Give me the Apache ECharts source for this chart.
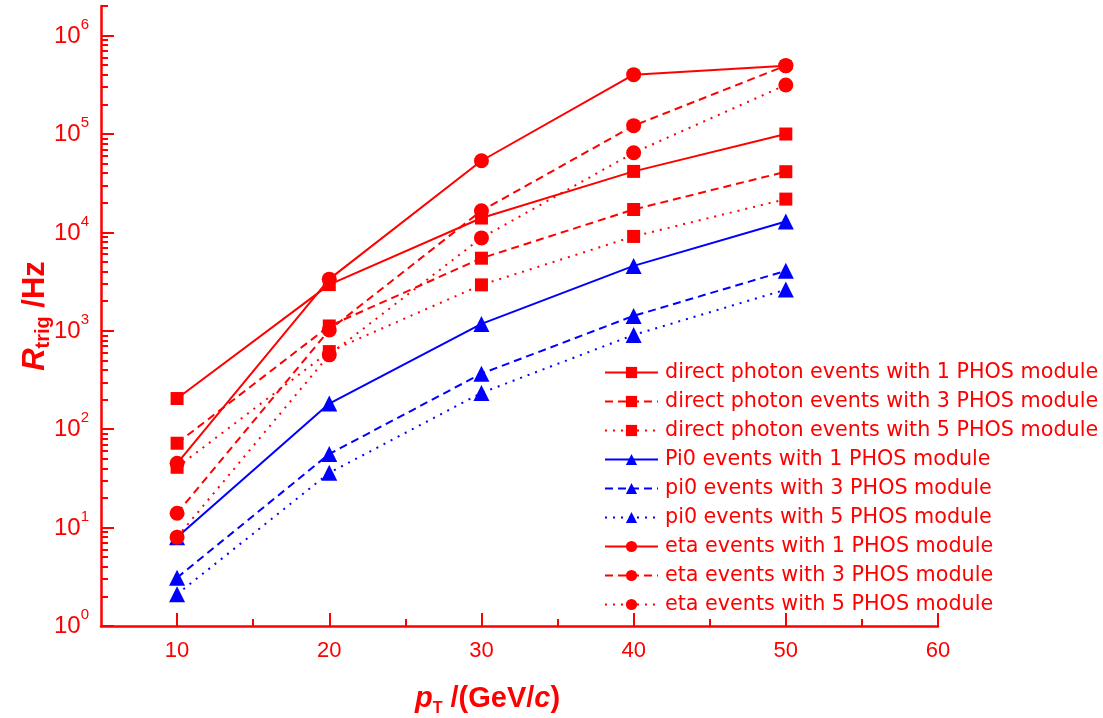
<!DOCTYPE html>
<html><head><meta charset="utf-8">
<script src="https://cdn.jsdelivr.net/npm/echarts@6/dist/echarts.min.js"></script>
<style>html,body{margin:0;padding:0;background:#fff}#c{width:1103px;height:718px}</style>
</head><body><div id="c"></div>
<script>
// ---- data ----
const PT = [10, 20, 30, 40, 50];
const DIRECT_1 = [205, 2950, 14000, 41700, 100000];
const DIRECT_3 = [72, 1120, 5470, 17100, 41400];
const DIRECT_5 = [41, 615, 2930, 9100, 21800];
const PI0_1 = [8, 182, 1175, 4570, 12900];
const PI0_3 = [3.1, 56, 367, 1418, 4070];
const PI0_5 = [2.1, 36, 234, 908, 2625];
const ETA_1 = [45, 3350, 53500, 401000, 495000];
const ETA_3 = [14, 1020, 16600, 121600, 495000];
const ETA_5 = [8, 570, 8800, 64500, 315000];
const SERIES_NAMES = [
  'direct photon events with 1 PHOS module',
  'direct photon events with 3 PHOS module',
  'direct photon events with 5 PHOS module',
  'Pi0 events with 1 PHOS module',
  'pi0 events with 3 PHOS module',
  'pi0 events with 5 PHOS module',
  'eta events with 1 PHOS module',
  'eta events with 3 PHOS module',
  'eta events with 5 PHOS module'
];
const X_MAJOR_TICKS = [10, 20, 30, 40, 50, 60];
const X_MINOR_TICKS = [15, 25, 35, 45, 55];
const Y_EXPONENTS = [0, 1, 2, 3, 4, 5, 6];
const Y_MINOR_FACTORS = [2, 3, 4, 5, 6, 7, 8, 9];
const X_MIN = 5, X_MAX = 60, Y_MIN = 1, Y_MAX = 2e6;

// ---- styling ----
const RED = '#ff0000', BLUE = '#0000ff';
const FONT = '"Liberation Sans", Arial, sans-serif';
const LOG_MAX = Math.log10(Y_MAX);
const yMinorLog = [];
Y_EXPONENTS.forEach(n => Y_MINOR_FACTORS.forEach(k => {
  const v = k * Math.pow(10, n);
  if (v <= Y_MAX * 1.0000001) yMinorLog.push(Math.min(Math.log10(v), LOG_MAX));
}));

function pairs(ys) { return PT.map((x, i) => [x, ys[i]]); }
const defs = [
  [DIRECT_1, RED, 'rect', 'solid', 13],
  [DIRECT_3, RED, 'rect', [8, 5], 13],
  [DIRECT_5, RED, 'rect', [2, 6], 13],
  [PI0_1, BLUE, 'triangle', 'solid', 16],
  [PI0_3, BLUE, 'triangle', [8, 5], 16],
  [PI0_5, BLUE, 'triangle', [2, 6], 16],
  [ETA_1, RED, 'circle', 'solid', 15],
  [ETA_3, RED, 'circle', [8, 5], 15],
  [ETA_5, RED, 'circle', [2, 6], 15]
];
const series = defs.map((d, i) => ({
  name: SERIES_NAMES[i],
  type: 'line',
  xAxisIndex: 0, yAxisIndex: 0,
  data: pairs(d[0]),
  symbol: d[2],
  symbolSize: d[4],
  showAllSymbol: true,
  color: d[1],
  itemStyle: { color: d[1] },
  lineStyle: { color: d[1], width: 2, type: d[3] },
  z: 2 + i
}));

const axisColor = RED;
const option = {
  animation: false,
  backgroundColor: '#fff',
  grid: { left: 101, right: 165, top: 6, bottom: 92, containLabel: false, outerBoundsMode: 'none' },
  legend: {
    orient: 'vertical',
    left: 599, top: 357,
    itemWidth: 53, itemHeight: 14,
    itemGap: 8,
    data: SERIES_NAMES,
    textStyle: { color: RED, fontFamily: '"DejaVu Sans", sans-serif', fontSize: 20.7, lineHeight: 21, padding: [0, 0, 0, 2] }
  },
  xAxis: [
    {
      type: 'value', min: X_MIN, max: X_MAX,
      name: '{pi|p}{sub|T}{b| /(GeV/}{ci|c}{b|)}{sp| }',
      nameLocation: 'middle', nameGap: 58,
      nameTextStyle: {
        color: RED,
        rich: {
          pi: { fontFamily: FONT, fontSize: 29, fontWeight: 'bold', fontStyle: 'italic', color: RED, lineHeight: 33, verticalAlign: 'top' },
          ci: { fontFamily: FONT, fontSize: 29, fontWeight: 'bold', fontStyle: 'italic', color: RED, lineHeight: 33, verticalAlign: 'top' },
          b: { fontFamily: FONT, fontSize: 29, fontWeight: 'bold', color: RED, lineHeight: 33, verticalAlign: 'top' },
          sub: { fontFamily: FONT, fontSize: 16, fontWeight: 'bold', color: RED, lineHeight: 16, verticalAlign: 'bottom', padding: [17, 0, 0, 0] },
          sp: { width: 64, fontSize: 10 }
        }
      },
      axisLine: { show: true, lineStyle: { color: axisColor, width: 2.5 } },
      axisTick: { show: true, inside: true, length: 13, lineStyle: { color: axisColor, width: 2 }, customValues: X_MAJOR_TICKS },
      axisLabel: { show: true, customValues: X_MAJOR_TICKS, color: RED, fontFamily: FONT, fontSize: 22, margin: 14 },
      splitLine: { show: false }
    },
    {
      type: 'value', min: X_MIN, max: X_MAX, position: 'bottom',
      axisLine: { show: false },
      axisTick: { show: true, inside: true, length: 7, lineStyle: { color: axisColor, width: 2 }, customValues: X_MINOR_TICKS },
      axisLabel: { show: false },
      splitLine: { show: false }
    }
  ],
  yAxis: [
    {
      type: 'log', logBase: 10, min: Y_MIN, max: Y_MAX, position: 'left',
      name: '{ri|R}{sub|trig}{b| /Hz}',
      nameLocation: 'middle', nameRotate: 90, nameGap: 48,
      nameTextStyle: {
        color: RED,
        rich: {
          ri: { fontFamily: FONT, fontSize: 31, fontWeight: 'bold', fontStyle: 'italic', color: RED, lineHeight: 33, verticalAlign: 'top' },
          b: { fontFamily: FONT, fontSize: 31, fontWeight: 'bold', color: RED, lineHeight: 33, verticalAlign: 'top' },
          sub: { fontFamily: FONT, fontSize: 20, fontWeight: 'bold', color: RED, lineHeight: 20, verticalAlign: 'bottom', padding: [23, 0, 0, 0] }
        }
      },
      axisLine: { show: true, lineStyle: { color: axisColor, width: 2.5 } },
      axisTick: { show: false },
      axisLabel: { show: false },
      splitLine: { show: false }
    },
    {
      type: 'value', min: 0, max: LOG_MAX, position: 'left',
      axisLine: { show: false },
      axisTick: { show: true, inside: true, length: 13, lineStyle: { color: axisColor, width: 2 }, customValues: Y_EXPONENTS },
      axisLabel: {
        show: true, customValues: Y_EXPONENTS, margin: 12,
        formatter: v => '{b|10}{s|' + Math.round(v) + '}',
        rich: {
          b: { fontFamily: FONT, fontSize: 24, color: RED, lineHeight: 25, verticalAlign: 'bottom' },
          s: { fontFamily: FONT, fontSize: 15, color: RED, lineHeight: 15, verticalAlign: 'bottom', padding: [0, 0, 16, 0] }
        }
      },
      splitLine: { show: false }
    },
    {
      type: 'value', min: 0, max: LOG_MAX, position: 'left',
      axisLine: { show: false },
      axisTick: { show: true, inside: true, length: 7, lineStyle: { color: axisColor, width: 2 }, customValues: yMinorLog },
      axisLabel: { show: false },
      splitLine: { show: false }
    }
  ],
  series: series
};
const chart = echarts.init(document.getElementById('c'), null, { renderer: 'canvas' });
chart.setOption(option);
</script>
</body></html>
